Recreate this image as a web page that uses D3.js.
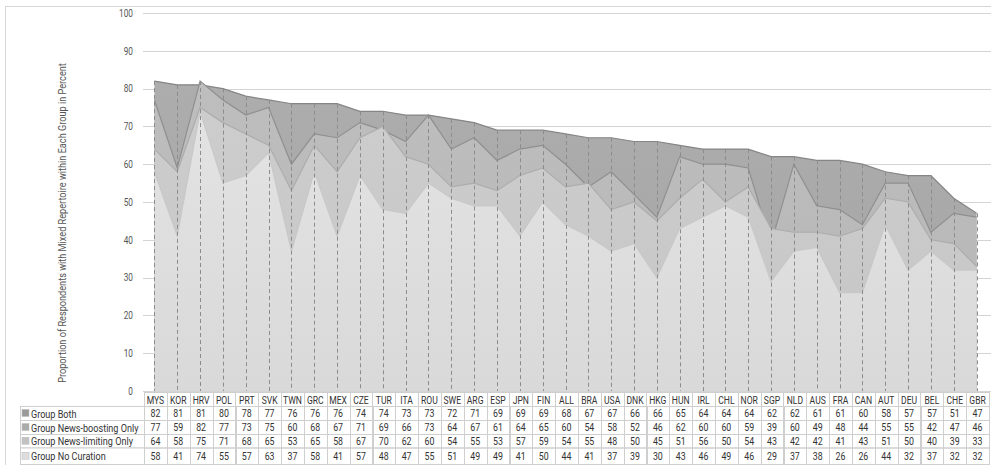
<!DOCTYPE html>
<html>
<head>
<meta charset="utf-8">
<script src="https://cdn.jsdelivr.net/npm/d3@7"></script>
<style>
  body { margin: 0; background: #fff; }
  text { font-family: "Roboto", sans-serif; }
</style>
</head>
<body>
<div id="chart"></div>
<script>
const categories = ["MYS","KOR","HRV","POL","PRT","SVK","TWN","GRC","MEX","CZE","TUR","ITA","ROU","SWE","ARG",
  "ESP","JPN","FIN","ALL","BRA","USA","DNK","HKG","HUN","IRL","CHL","NOR","SGP","NLD","AUS","FRA","CAN","AUT","DEU","BEL","CHE","GBR"];
const groupBoth = [82,81,81,80,78,77,76,76,76,74,74,73,73,72,71,69,69,69,68,67,67,66,66,65,64,64,64,62,62,61,61,60,58,57,57,51,47];
const newsBoosting = [77,59,82,77,73,75,60,68,67,71,69,66,73,64,67,61,64,65,60,54,58,52,46,62,60,60,59,39,60,49,48,44,55,55,42,47,46];
const newsLimiting = [64,58,75,71,68,65,53,65,58,67,70,62,60,54,55,53,57,59,54,55,48,50,45,51,56,50,54,43,42,42,41,43,51,50,40,39,33];
const noCuration = [58,41,74,55,57,63,37,58,41,57,48,47,55,51,49,49,41,50,44,41,37,39,30,43,46,49,46,29,37,38,26,26,44,32,37,32,32];
const seriesNames = ["Group Both","Group News-boosting Only","Group News-limiting Only","Group No Curation"];
const yTicks = [0,10,20,30,40,50,60,70,80,90,100];
const yTitle = "Proportion of Respondents with Mixed Repertoire within Each Group in Percent";

const series = [groupBoth, newsBoosting, newsLimiting, noCuration];
const fills = [["#adadad","#a4a4a4"],["#bebebe","#b5b5b5"],["#cdcdcd","#c5c5c5"],["#e3e3e3","#d9d9d9"]];
const strokes = ["#858585","#8f8f8f","#adadad","#c8c8c8"];
const swatches = ["#9a9a9a","#ababab","#c2c2c2","#dddddd"];

const width = 991, height = 465;

const svg = d3.select("#chart").append("svg")
  .attr("width", width).attr("height", height);

// the source font is a narrow one, so squeeze text horizontally around its x anchor
function narrow(sel, k) {
  sel.each(function () {
    const t = d3.select(this), ax = +t.attr("x");
    t.attr("transform", `translate(${ax},0) scale(${k},1) translate(${-ax},0)`);
  });
}

// frame
svg.append("rect").attr("x", 5.5).attr("y", 6.5).attr("width", 1000).attr("height", 500)
  .attr("fill", "none").attr("stroke", "#d6d6d6");

const x = d3.scaleBand().domain(categories).range([144, 989]);
const y = d3.scaleLinear().domain([0, 100]).range([391, 13]);
const cx = c => x(c) + x.bandwidth() / 2 - 1;

// gridlines
svg.append("g").selectAll("line").data(yTicks).join("line")
  .attr("x1", 143).attr("x2", 991)
  .attr("y1", d => Math.round(y(d)) + 0.5).attr("y2", d => Math.round(y(d)) + 0.5)
  .attr("stroke", "#d4d4d4");

svg.append("g").selectAll("text").data(yTicks).join("text")
  .attr("x", 133).attr("y", d => y(d)).attr("dy", "0.35em")
  .attr("text-anchor", "end").attr("font-size", 11).attr("fill", "#555")
  .text(d => d)
  .call(narrow, 0.75);

// y title, squeezed to the span it takes in the source
const title = svg.append("text")
  .attr("text-anchor", "middle").attr("font-size", 11.5).attr("fill", "#555")
  .text(yTitle);
const tk = 320 / title.node().getComputedTextLength();
title.attr("transform", `translate(66, 223) rotate(-90) scale(${tk},1)`);

const defs = svg.append("defs");
fills.forEach((f, i) => {
  const g = defs.append("linearGradient").attr("id", "grad" + i)
    .attr("x1", 0).attr("y1", 0).attr("x2", 0).attr("y2", 1);
  g.append("stop").attr("offset", "0%").attr("stop-color", f[0]);
  g.append("stop").attr("offset", "100%").attr("stop-color", f[1]);
});

const area = d3.area().x((d, i) => cx(categories[i])).y0(y(0)).y1(d => y(d));
const line = d3.line().x((d, i) => cx(categories[i])).y(d => y(d));

series.forEach((s, i) => {
  svg.append("path").datum(s).attr("d", area).attr("fill", `url(#grad${i})`);
  svg.append("path").datum(s).attr("d", line).attr("fill", "none")
    .attr("stroke", strokes[i]).attr("stroke-width", 1.2);
});

// drop lines
svg.append("g").selectAll("line").data(categories).join("line")
  .attr("x1", d => Math.round(cx(d)) + 0.5).attr("x2", d => Math.round(cx(d)) + 0.5)
  .attr("y1", (d, i) => y(d3.max(series, s => s[i])))
  .attr("y2", y(0))
  .attr("stroke", "#8c8c8c").attr("stroke-dasharray", "4,3");

// data table
const rowY = [392, 406, 420, 434, 447.5, 464];
const tbl = svg.append("g");
const tColor = "#cfcfcf";

// header cells
tbl.selectAll(".hdr").data(categories).join("rect")
  .attr("x", d => Math.round(x(d)) + 0.5).attr("y", rowY[0] + 0.5)
  .attr("width", Math.round(x.bandwidth())).attr("height", rowY[1] - rowY[0])
  .attr("fill", "#fff").attr("stroke", tColor);
tbl.selectAll(".hdrt").data(categories).join("text")
  .attr("x", d => x(d) + x.bandwidth() / 2).attr("y", (rowY[0] + rowY[1]) / 2 + 1)
  .attr("dy", "0.35em").attr("text-anchor", "middle")
  .attr("font-size", 11).attr("fill", "#333").text(d => d)
  .call(narrow, 0.78);

seriesNames.forEach((name, r) => {
  const y0 = rowY[r + 1], y1 = rowY[r + 2], mid = (y0 + y1) / 2;
  tbl.append("rect").attr("x", 20.5).attr("y", y0 + 0.5)
    .attr("width", 124).attr("height", y1 - y0)
    .attr("fill", "#fff").attr("stroke", tColor);
  tbl.append("rect").attr("x", 22).attr("y", mid - 3.5).attr("width", 7).attr("height", 7)
    .attr("fill", swatches[r]).attr("stroke", "#bbb").attr("stroke-width", 0.5);
  tbl.append("text").attr("x", 31).attr("y", mid + 0.5).attr("dy", "0.35em")
    .attr("font-size", 11.5).attr("fill", "#333").text(name)
    .call(narrow, 0.79);
  tbl.append("g").selectAll("rect").data(categories).join("rect")
    .attr("x", d => Math.round(x(d)) + 0.5).attr("y", y0 + 0.5)
    .attr("width", Math.round(x.bandwidth())).attr("height", y1 - y0)
    .attr("fill", "none").attr("stroke", tColor);
  tbl.append("g").selectAll("text").data(series[r]).join("text")
    .attr("x", (d, i) => x(categories[i]) + x.bandwidth() / 2).attr("y", mid + 0.5)
    .attr("dy", "0.35em").attr("text-anchor", "middle")
    .attr("font-size", 11).attr("fill", "#333").text(d => d)
    .call(narrow, 0.8);
});
</script>
</body>
</html>
